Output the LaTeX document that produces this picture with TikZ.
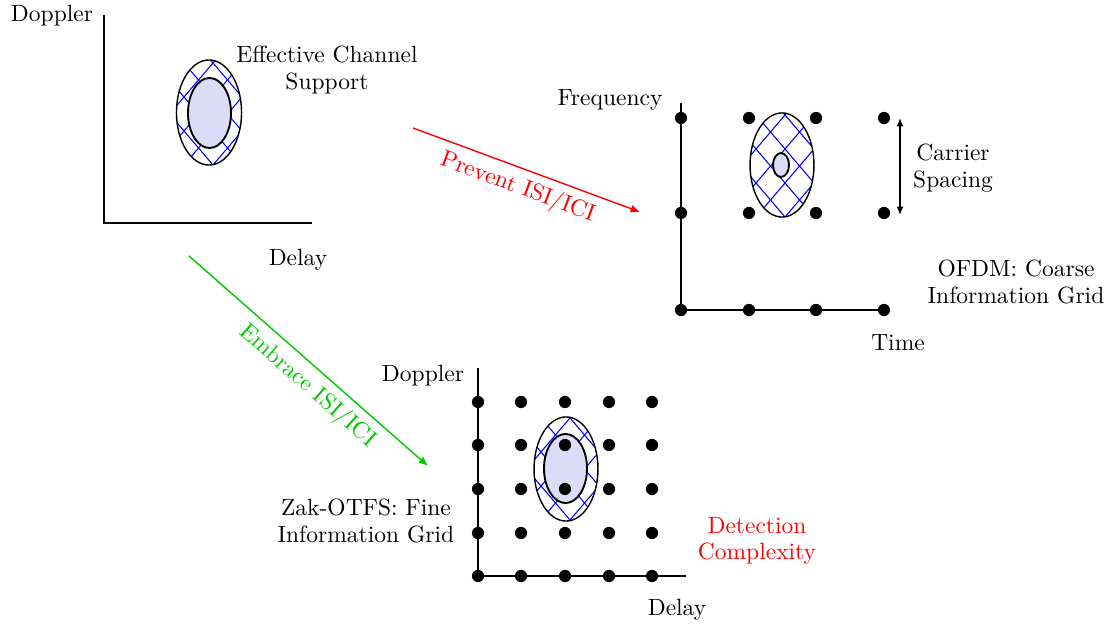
\documentclass[tikz,border=0pt]{standalone}
\usetikzlibrary{shapes.geometric,arrows.meta}
\definecolor{embracegreen}{RGB}{0,200,0}
\definecolor{innerfill}{RGB}{220,220,248}

% Diamond hatching clipped to an ellipse: centre (#1,#2), radii #3,#4, lattice point (#5,#6)
\newcommand\hatchregion[6]{%
  \begin{scope}
    \clip (#1,#2) ellipse [x radius=#3, y radius=#4];
    \foreach \k in {-7,...,7}{
      \pgfmathsetmacro\ax{#5+14.5*\k-101.5}
      \pgfmathsetmacro\ay{#6-17*\k-119}
      \draw[hatch] (\ax,\ay) -- ++(203,238);
      \pgfmathsetmacro\bx{#5+14.5*\k-101.5}
      \pgfmathsetmacro\by{#6+17*\k+119}
      \draw[hatch] (\bx,\by) -- ++(203,-238);
    }
  \end{scope}}

\begin{document}
\begin{tikzpicture}[x=0.4255pt,y=-0.4255pt,
  axis/.style={semithick},
  lbl/.style={align=center, inner sep=0pt, font=\fontsize{10}{11.3}\selectfont},
  dot/.style={circle, fill=black, inner sep=0pt, minimum size=5.2pt},
  hatch/.style={blue, line width=0.45pt},
  outerreg/.style={ellipse, draw, semithick, inner sep=0pt, minimum width=27.2pt, minimum height=44.3pt},
  innerreg/.style={ellipse, draw, thick, fill=innerfill, inner sep=0pt},
  flow/.style={semithick, -{Latex[length=4pt,width=3.4pt]}},
  spacing/.style={semithick, {Latex[length=3.6pt,width=3pt]}-{Latex[length=3.6pt,width=3pt]}}]
\useasboundingbox (0,0) rectangle (1114,629);

% ---------- delay-Doppler channel ----------
\coordinate (o1) at (104,223);
\coordinate (y1) at (104,15);
\coordinate (x1) at (312,223);
\draw[axis] (y1) -- (o1) -- (x1);
\node[lbl] (dop1) at (52,16) {Doppler};
\node[lbl] (del1) at (298,260) {Delay};
\hatchregion{209}{112.5}{32.5}{52.5}{213}{63}
\node[outerreg, minimum width=27.7pt, minimum height=44.7pt] (out1) at (209,112.5) {};
\node[innerreg, minimum width=18.3pt, minimum height=29.8pt] (in1) at (209.5,113) {};
\node[lbl] (ecs) at (327,70) {Effective Channel\\Support};

% ---------- OFDM grid ----------
\coordinate (o2) at (681,310);
\coordinate (y2) at (681,103);
\coordinate (x2) at (884,310);
\draw[axis] (y2) -- (o2) -- (x2);
\node[lbl] (freq) at (610,100) {Frequency};
\node[lbl] (time) at (898,343) {Time};
\hatchregion{782}{165}{32}{52}{785}{149}
\node[outerreg] (out2) at (782,165) {};
\node[innerreg, minimum width=6.8pt, minimum height=10.2pt] (in2) at (781,165) {};
\foreach \i/\x in {1/681,2/749,3/816,4/884}
  \foreach \j/\y in {1/118,2/213,3/310}
    \node[dot] (f-\i-\j) at (\x,\y) {};
\coordinate (cs1) at (900,118);
\coordinate (cs2) at (900,215);
\draw[spacing] (cs1) -- (cs2);
\node[lbl] (csl) at (953,168) {Carrier\\Spacing};
\node[lbl] (ofdm) at (1016,282) {OFDM: Coarse\\Information Grid};

% ---------- Zak-OTFS grid ----------
\coordinate (o3) at (478,576);
\coordinate (y3) at (478,368);
\coordinate (x3) at (686,576);
\draw[axis] (y3) -- (o3) -- (x3);
\node[lbl] (dop3) at (423,376) {Doppler};
\node[lbl] (del3) at (677,610) {Delay};
\hatchregion{566}{469}{32}{52}{570}{418}
\node[outerreg] (out3) at (566,469) {};
\node[innerreg, minimum width=18.3pt, minimum height=29.4pt] (in3) at (565.5,468.5) {};
\foreach \i/\x in {1/478,2/521,3/565,4/609,5/652}
  \foreach \j/\y in {1/402,2/445,3/489,4/533,5/576}
    \node[dot] (z-\i-\j) at (\x,\y) {};
\node[lbl] (zak) at (366,521) {Zak-OTFS: Fine\\Information Grid};
\node[lbl, text=red] (detc) at (757,541) {Detection\\Complexity};

% ---------- transitions ----------
\coordinate (p1) at (413,128);
\coordinate (p2) at (640,212);
\draw[flow, red] (p1) -- node[pos=0.49, sloped, below, inner sep=3pt, text=red] {Prevent ISI/ICI} (p2);
\coordinate (e1) at (189,256);
\coordinate (e2) at (428,466);
\draw[flow, embracegreen] (e1) -- node[pos=0.55, sloped, below, inner sep=3pt, text=embracegreen] {Embrace ISI/ICI} (e2);
\end{tikzpicture}
\end{document}
